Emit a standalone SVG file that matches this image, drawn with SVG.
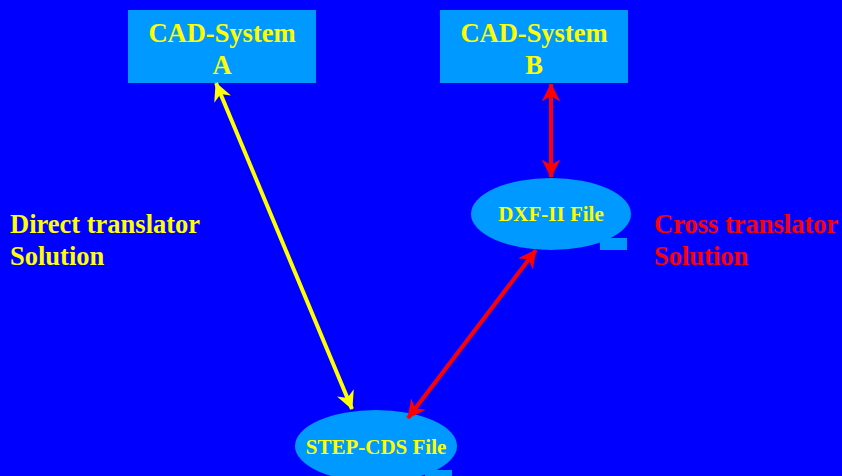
<svg xmlns="http://www.w3.org/2000/svg" width="842" height="476" viewBox="0 0 842 476">
<style>
.box{fill:#0099FF}
.t{font-family:"Liberation Serif","Times New Roman",serif;font-weight:bold;fill:#FFFF00}
.big{font-size:26.5px}
.small{font-size:21px}
.red{fill:#FF0000}
.ya{stroke:#FFFF00;stroke-width:4;fill:none}
.ra{stroke:#FF0000;stroke-width:4;fill:none}
</style>
<defs>
<marker id="hy" viewBox="0 0 10 10" refX="9.5" refY="5" markerWidth="4.6" markerHeight="4.6" orient="auto-start-reverse" markerUnits="strokeWidth"><path d="M0,0 L10,5 L0,10 L3,5 Z" fill="#FFFF00"/></marker>
<marker id="hr" viewBox="0 0 10 10" refX="9.5" refY="5" markerWidth="4.6" markerHeight="4.6" orient="auto-start-reverse" markerUnits="strokeWidth"><path d="M0,0 L10,5 L0,10 L3,5 Z" fill="#FF0000"/></marker>
</defs>
<rect width="842" height="476" fill="#0000FF"/>
<g id="cadA">
<rect class="box" x="128" y="10" width="188" height="73"/>
<text class="t big" x="222" y="42" text-anchor="middle">CAD-System</text>
<text class="t big" x="222" y="74" text-anchor="middle">A</text>
</g>
<g id="cadB">
<rect class="box" x="440" y="10" width="188" height="73"/>
<text class="t big" x="534" y="42" text-anchor="middle">CAD-System</text>
<text class="t big" x="534" y="74" text-anchor="middle">B</text>
</g>
<g id="dxf">
<rect class="box" x="600" y="238" width="27" height="12"/>
<ellipse class="box" cx="551" cy="214" rx="80" ry="36"/>
<text class="t small" x="551" y="221" text-anchor="middle">DXF-II File</text>
</g>
<g id="step">
<rect class="box" x="425" y="470" width="27" height="6"/>
<ellipse class="box" cx="376" cy="446" rx="81" ry="36"/>
<text class="t small" x="376" y="454" text-anchor="middle">STEP-CDS File</text>
</g>
<g id="labels">
<text class="t big" x="10" y="233">Direct translator</text>
<text class="t big" x="10" y="265">Solution</text>
<text class="t big red" x="654" y="233">Cross translator</text>
<text class="t big red" x="654" y="265">Solution</text>
</g>
<g id="connectors">
<line class="ya" x1="216" y1="83" x2="352" y2="409" marker-start="url(#hy)" marker-end="url(#hy)"/>
<line class="ra" x1="551" y1="84" x2="551" y2="177" marker-start="url(#hr)" marker-end="url(#hr)"/>
<line class="ra" x1="536" y1="250" x2="408" y2="418" marker-start="url(#hr)" marker-end="url(#hr)"/>
</g>
</svg>
